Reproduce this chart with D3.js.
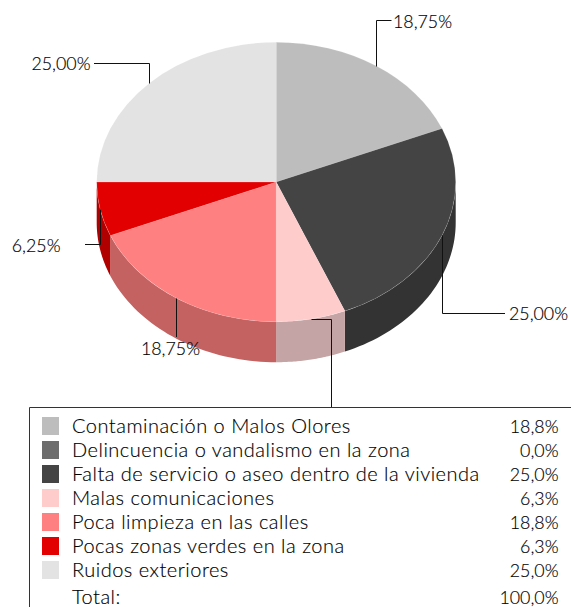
<!DOCTYPE html>
<html>
<head>
<meta charset="utf-8">
<script src="https://cdn.jsdelivr.net/npm/d3@7"></script>
<style>
  html, body { margin: 0; padding: 0; background: #fff; }
  svg { display: block; }
  text { font-family: "Lato", sans-serif; font-weight: 300; fill: #000; stroke: #000; stroke-width: 0.15px; }
  .name { font-size: 20px; letter-spacing: 0.5px; }
  .num { font-size: 17.8px; letter-spacing: 0; }
</style>
</head>
<body>
<div id="chart"></div>
<script>
const categories = [
  "Contaminación o Malos Olores",
  "Delincuencia o vandalismo en la zona",
  "Falta de servicio o aseo dentro de la vivienda",
  "Malas comunicaciones",
  "Poca limpieza en las calles",
  "Pocas zonas verdes en la zona",
  "Ruidos exteriores"
];
const values = [18.75, 0, 25, 6.25, 18.75, 6.25, 25];
const sliceLabels = ["18,75%", "0,00%", "25,00%", "6,25%", "18,75%", "6,25%", "25,00%"];
const legendLabels = ["18,8%", "0,0%", "25,0%", "6,3%", "18,8%", "6,3%", "25,0%"];
const topColors = ["#bdbdbd", "#6d6d6d", "#444444", "#ffcccc", "#ff8080", "#e30000", "#e3e3e3"];
const sideColors = ["#8e8e8e", "#525252", "#333333", "#c4a4a4", "#c46262", "#b00000", "#aaaaaa"];
const totalLabel = "Total:";
const totalValue = "100,0%";

const width = 571, height = 607;
const cx = 276.2, cy = 182, rx = 179.5, ry = 139.7, depth = 40.5;

const svg = d3.select("#chart").append("svg")
  .attr("width", width)
  .attr("height", height);

const topFill = d3.scaleOrdinal(categories, topColors);
const sideFill = d3.scaleOrdinal(categories, sideColors);

const slices = d3.pie().sort(null).value(d => d.value)(
  categories.map((name, i) => ({ name, value: values[i], label: sliceLabels[i] }))
);

// point on the rim, angle clockwise from 12 o'clock
const rim = (a, dy = 0) => [cx + rx * Math.sin(a), cy - ry * Math.cos(a) + dy];

// side wall, only the front half (90deg - 270deg) can be seen
const wall = svg.append("g");
slices.forEach(s => {
  const a0 = Math.max(s.startAngle, Math.PI / 2);
  const a1 = Math.min(s.endAngle, Math.PI * 3 / 2);
  if (a1 <= a0) return;
  const steps = d3.range(0, 41).map(i => a0 + (a1 - a0) * i / 40);
  const pts = steps.map(a => rim(a)).concat(steps.slice().reverse().map(a => rim(a, depth)));
  wall.append("path")
    .attr("d", d3.line()(pts) + "Z")
    .attr("fill", sideFill(s.data.name));
});

// top of the pie, circle squashed to an ellipse
const arc = d3.arc().innerRadius(0).outerRadius(rx);
svg.append("g")
  .attr("transform", `translate(${cx},${cy}) scale(1,${ry / rx})`)
  .selectAll("path")
  .data(slices.filter(s => s.data.value > 0))
  .join("path")
  .attr("d", arc)
  .attr("fill", d => topFill(d.data.name))
  .attr("stroke", "rgba(255,255,255,0.2)")
  .attr("stroke-width", 0.6);

// leader elbows and label spots, in the same order as the non-empty slices
const leaders = [
  { via: (x, y) => [[x, 20.5], [x + 15, 20.5]], tx: 393, ty: 28, anchor: "start" },
  { via: (x, y) => [[x, 313.5], [505, 313.5]], tx: 509, ty: 320, anchor: "start" },
  { via: (x, y) => [[331.5, y], [331.5, 407]], tx: null },
  { via: (x, y) => [[x, 337]], tx: 170.5, ty: 355, anchor: "middle" },
  { via: (x, y) => [[x, 244.5], [85, 244.5]], tx: 60.5, ty: 252, anchor: "end" },
  { via: (x, y) => [[x, 63.5], [94, 63.5]], tx: 90.5, ty: 70, anchor: "end" }
];

slices.filter(s => s.data.value > 0).forEach((s, i) => {
  const mid = (s.startAngle + s.endAngle) / 2;
  const [x, y] = rim(mid).map(v => Math.round(v) + 0.5);
  const l = leaders[i];
  svg.append("path")
    .attr("d", d3.line()([[x, y], ...l.via(x, y)]))
    .attr("fill", "none")
    .attr("stroke", "#111")
    .attr("stroke-width", 1);
  if (l.tx !== null) {
    svg.append("text")
      .attr("class", "num")
      .attr("x", l.tx).attr("y", l.ty)
      .attr("text-anchor", l.anchor)
      .text(s.data.label);
  }
});

// legend box runs off the right and bottom of the picture
svg.append("path")
  .attr("d", d3.line()([[29.5, height], [29.5, 407.5], [width, 407.5]]))
  .attr("fill", "none")
  .attr("stroke", "#333");

const rowY = d3.scalePoint().domain(d3.range(categories.length + 1)).range([0, 24 * categories.length]);

const rows = svg.append("g").selectAll("g")
  .data(categories)
  .join("g")
  .attr("transform", (d, i) => `translate(0,${417 + rowY(i)})`);

rows.append("rect")
  .attr("x", 42).attr("y", 0)
  .attr("width", 17).attr("height", 18)
  .attr("fill", d => topFill(d));

rows.append("text").attr("class", "name").attr("x", 72).attr("y", 16).text(d => d);
rows.append("text").attr("class", "num").attr("x", 558.5).attr("y", 16).attr("text-anchor", "end")
  .text((d, i) => legendLabels[i]);

svg.append("text").attr("class", "name").attr("x", 72).attr("y", 604).text(totalLabel);
svg.append("text").attr("class", "num").attr("x", 558.5).attr("y", 604).attr("text-anchor", "end").text(totalValue);
</script>
</body>
</html>
